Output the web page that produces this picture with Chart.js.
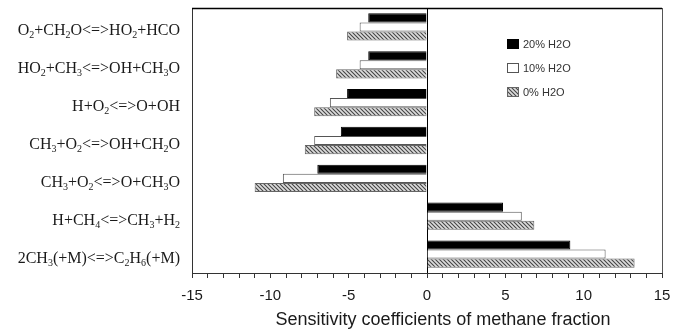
<!DOCTYPE html>
<html><head><meta charset="utf-8">
<script src="https://cdn.jsdelivr.net/npm/chart.js@4.4.1/dist/chart.umd.min.js"></script>
<style>html,body{margin:0;padding:0;background:#fff;}#wrap{width:685px;height:331px;}</style>
</head><body><div id="wrap"><canvas id="c" width="685" height="331"></canvas></div>
<script>
const categories = ["O₂+CH₂O<=>HO₂+HCO","HO₂+CH₃<=>OH+CH₃O","H+O₂<=>O+OH","CH₃+O₂<=>OH+CH₂O","CH₃+O₂<=>O+CH₃O","H+CH₄<=>CH₃+H₂","2CH₃(+M)<=>C₂H₆(+M)"];
const seriesNames = ["20% H2O","10% H2O","0% H2O"];
const h2o20 = [-3.75,-3.75,-5.1,-5.5,-7.0,4.85,9.15];
const h2o10 = [-4.3,-4.3,-6.2,-7.2,-9.2,6.05,11.4];
const h2o0  = [-5.1,-5.8,-7.2,-7.8,-11.0,6.85,13.25];
const xTickLabels = [-15,-10,-5,0,5,10,15];
const xTitle = "Sensitivity coefficients of methane fraction";

const ctx = document.getElementById('c').getContext('2d');

function makeHatch(){
  const n = 4;
  const pc = document.createElement('canvas');
  pc.width = n; pc.height = n;
  const p = pc.getContext('2d');
  p.fillStyle = '#dcdcdc'; p.fillRect(0,0,n,n);
  p.strokeStyle = '#444'; p.lineWidth = 1.1;
  p.beginPath();
  p.moveTo(0,0); p.lineTo(n,n);
  p.moveTo(-n,0); p.lineTo(n,2*n);
  p.moveTo(0,-n); p.lineTo(2*n,n);
  p.stroke();
  return ctx.createPattern(pc,'repeat');
}
const hatch = makeHatch();

const subMap = {'₀':'0','₁':'1','₂':'2','₃':'3','₄':'4','₅':'5','₆':'6','₇':'7','₈':'8','₉':'9'};
function segments(s){
  const out = [];
  for (const ch of s){
    const sub = ch in subMap;
    const c = sub ? subMap[ch] : ch;
    if (out.length && out[out.length-1].sub === sub) out[out.length-1].t += c;
    else out.push({t:c, sub});
  }
  return out;
}

const labelPlugin = {
  id:'catLabels',
  afterDraw(chart){
    const c = chart.ctx, ys = chart.scales.y, area = chart.chartArea;
    const mainF = '16px "Liberation Serif", "Times New Roman", serif';
    const subF = '10px "Liberation Serif", "Times New Roman", serif';
    c.save();
    c.fillStyle = '#1a1a1a';
    c.textBaseline = 'alphabetic';
    c.textAlign = 'left';
    categories.forEach((lab,i)=>{
      const segs = segments(lab);
      let w = 0;
      segs.forEach(s=>{ c.font = s.sub?subF:mainF; s.w = c.measureText(s.t).width; w += s.w; });
      let x = area.left - 12 - w;
      const y = ys.getPixelForValue(i) + 8.5;
      segs.forEach(s=>{ c.font = s.sub?subF:mainF; c.fillText(s.t, x, s.sub? y+3 : y); x += s.w; });
    });
    c.restore();
  }
};

const framePlugin = {
  id:'frame',
  afterDraw(chart){
    const c = chart.ctx, a = chart.chartArea;
    c.save();
    c.strokeStyle = '#000'; c.lineWidth = 1.5;
    c.beginPath(); c.moveTo(a.left, a.top+0.5); c.lineTo(a.right, a.top+0.5); c.stroke();
    c.strokeStyle = '#555'; c.lineWidth = 1;
    c.beginPath(); c.moveTo(a.right+0.5, a.top); c.lineTo(a.right+0.5, a.bottom); c.stroke();
    // x title
    c.fillStyle = '#1a1a1a';
    c.font = '18px "Liberation Sans", Arial, sans-serif';
    c.textAlign = 'center'; c.textBaseline = 'middle';
    c.fillText(xTitle, (a.left+a.right)/2 + 16, 320);
    // legend
    const ds = chart.data.datasets;
    c.font = '11px "Liberation Sans", Arial, sans-serif';
    c.textAlign = 'left';
    ds.forEach((d,i)=>{
      const yc = 44 + i*24;
      const bx = 507, by = yc-5;
      c.fillStyle = d.backgroundColor; c.fillRect(bx,by,12,10);
      c.strokeStyle = d.borderColor; c.lineWidth = 1;
      c.strokeRect(bx+0.5,by+0.5,11,9);
      c.fillStyle = '#333';
      c.fillText(d.label, bx+16, yc+0.5);
    });
    c.restore();
  }
};

new Chart(ctx,{
  type:'bar',
  data:{
    labels:categories,
    datasets:[
      {label:seriesNames[0], data:h2o20, backgroundColor:'#000', borderColor:'#000', borderWidth:1},
      {label:seriesNames[1], data:h2o10, backgroundColor:'#fff', borderColor:'#555', borderWidth:1},
      {label:seriesNames[2], data:h2o0, backgroundColor:hatch, borderColor:'#666', borderWidth:1}
    ]
  },
  options:{
    indexAxis:'y', responsive:false, animation:false,
    datasets:{bar:{categoryPercentage:0.72, barPercentage:1.0}},
    layout:{padding:{left:192, right:23, top:8, bottom:17}},
    plugins:{legend:{display:false}, tooltip:{enabled:false}, title:{display:false}},
    scales:{
      x:{
        min:-15, max:15,
        ticks:{stepSize:1, autoSkip:false, maxRotation:0, padding:9, color:'#1a1a1a',
          font:{family:'"Liberation Sans", Arial, sans-serif', size:15},
          callback:(v)=> xTickLabels.includes(v) ? String(v) : ''},
        grid:{drawOnChartArea:true, color:(c)=> (c.tick && c.tick.value===0) ? '#000' : 'rgba(0,0,0,0)', tickColor:'#333', tickLength:5, lineWidth:1},
        border:{display:true, color:'#333', width:1}
      },
      y:{
        ticks:{display:false},
        grid:{display:false, drawTicks:false},
        border:{display:true, color:'#333', width:1}
      }
    }
  },
  plugins:[labelPlugin, framePlugin]
});
</script></body></html>
